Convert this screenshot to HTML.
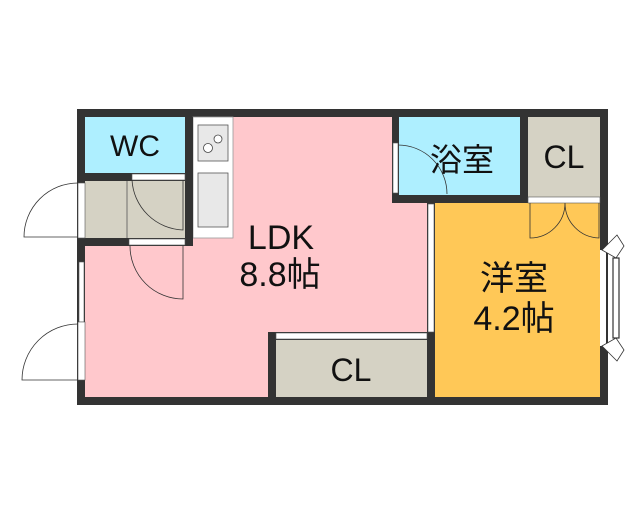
<html><body style="margin:0;background:#fff;width:640px;height:512px;overflow:hidden">
<svg width="640" height="512" xmlns="http://www.w3.org/2000/svg" style="position:absolute;left:0;top:0">
<rect x="77" y="109" width="531" height="296" fill="#333"/>
<rect x="85" y="117" width="307" height="280" fill="#ffc8cc"/>
<rect x="392" y="203" width="35" height="194" fill="#ffc8cc"/>
<rect x="193" y="117" width="40" height="121" fill="#fff" stroke="#999" stroke-width="0.8"/>
<rect x="198" y="125" width="30" height="36" fill="#e8e8e8" stroke="#555" stroke-width="0.8"/>
<circle cx="208" cy="148" r="4.5" fill="#fff" stroke="#444" stroke-width="0.8"/>
<circle cx="218" cy="139" r="4" fill="#fff" stroke="#444" stroke-width="0.8"/>
<rect x="198" y="173" width="30" height="54" fill="#e8e8e8" stroke="#555" stroke-width="0.8"/>
<rect x="85" y="117" width="100" height="56" fill="#aeefff"/>
<rect x="85" y="181" width="100" height="57" fill="#d5d2c4"/>
<line x1="127" y1="181" x2="127" y2="238" stroke="#555" stroke-width="0.8"/>
<rect x="185" y="117" width="8" height="129" fill="#333"/>
<rect x="85" y="173" width="108" height="8" fill="#333"/>
<rect x="85" y="238" width="108" height="8" fill="#333"/>
<rect x="132" y="174" width="53" height="6" fill="#fff" stroke="#555" stroke-width="0.6"/>
<rect x="129" y="239" width="56" height="6" fill="#fff" stroke="#555" stroke-width="0.6"/>
<path d="M132 180 A53 53 0 0 0 183 230 L183 180" fill="none" stroke="#333" stroke-width="0.8"/>
<path d="M130 246 A53 53 0 0 0 183 299 L183 246" fill="none" stroke="#333" stroke-width="0.8"/>
<rect x="78" y="183" width="7" height="55" fill="#fff" stroke="#555" stroke-width="0.6"/>
<path d="M78 183 A54 54 0 0 0 24 237 L78 237" fill="none" stroke="#333" stroke-width="0.8"/>
<rect x="79" y="262" width="5" height="60" fill="#fff" stroke="#555" stroke-width="0.6"/>
<rect x="78" y="322" width="7" height="58" fill="#fff" stroke="#555" stroke-width="0.6"/>
<path d="M78 324 A56 56 0 0 0 22 380 L78 380" fill="none" stroke="#333" stroke-width="0.8"/>
<rect x="399" y="117" width="121" height="78" fill="#aeefff"/>
<rect x="392" y="117" width="7" height="86" fill="#333"/>
<rect x="392" y="195" width="136" height="8" fill="#333"/>
<rect x="393" y="143" width="5" height="50" fill="#fff" stroke="#555" stroke-width="0.6"/>
<path d="M398 145 A49 49 0 0 1 447 194" fill="none" stroke="#333" stroke-width="0.8"/>
<rect x="528" y="117" width="72" height="80" fill="#d5d2c4"/>
<rect x="520" y="117" width="8" height="86" fill="#333"/>
<rect x="435" y="203" width="165" height="194" fill="#ffc857"/>
<rect x="528" y="197" width="72" height="6" fill="#fff" stroke="#555" stroke-width="0.6"/>
<path d="M530 203 L530 238 A35 35 0 0 0 565 203 A35 35 0 0 0 599 238 L599 203" fill="none" stroke="#333" stroke-width="0.8"/>
<rect x="427" y="203" width="8" height="202" fill="#333"/>
<rect x="428" y="204" width="6" height="128" fill="#fff" stroke="#555" stroke-width="0.6"/>
<rect x="600" y="250" width="6" height="96" fill="#fff"/>
<rect x="613" y="258" width="6" height="80" fill="#fff" stroke="#333" stroke-width="1.2"/>
<path d="M602 250 L617 235 L624 246 L616 258 Z M602 346 L617 361 L624 350 L616 338 Z" fill="#fff" stroke="#333" stroke-width="0.8"/>
<rect x="268" y="332" width="159" height="73" fill="#333"/>
<rect x="276" y="340" width="151" height="57" fill="#d5d2c4"/>
<rect x="276" y="333" width="151" height="6" fill="#fff" stroke="#555" stroke-width="0.6"/>
<g font-family="Liberation Sans, Noto Sans CJK JP, sans-serif" fill="#111" text-anchor="middle">
<text x="135" y="156" font-size="30">WC</text>
<text x="281" y="249" font-size="34">LDK</text>
<text x="280" y="286" font-size="34">8.8帖</text>
<text x="462" y="171" font-size="32">浴室</text>
<text x="564" y="168" font-size="32">CL</text>
<text x="514" y="290" font-size="34">洋室</text>
<text x="514" y="330" font-size="34">4.2帖</text>
<text x="351" y="381" font-size="32">CL</text>
</g>
</svg></body></html>
